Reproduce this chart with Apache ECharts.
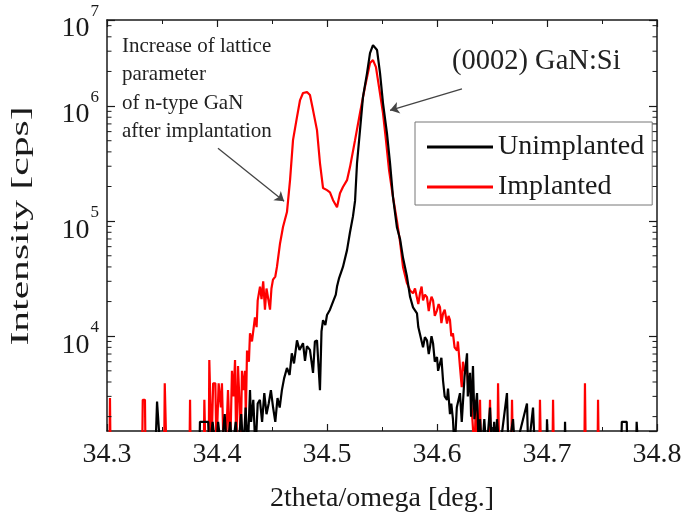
<!DOCTYPE html>
<html>
<head>
<meta charset="utf-8">
<script src="https://cdn.jsdelivr.net/npm/echarts@6/dist/echarts.min.js"></script>
<style>html,body{margin:0;padding:0;background:#fff}#c{width:685px;height:525px}</style>
</head>
<body>
<div id="c"></div>
<script>
// ---- data (2theta in deg, intensity in cps; 1000 = below axis floor) ----
const unimplantedX = [34.300,34.344,34.3455,34.347,34.3485,34.384,34.3845,34.392,34.393,34.396,34.399,34.401,34.404,34.407,34.409,34.412,34.414,34.417,34.419,34.422,34.424,34.426,34.428,34.430,34.431,34.433,34.435,34.437,34.439,34.441,34.443,34.445,34.447,34.449,34.451,34.453,34.455,34.457,34.459,34.461,34.4636,34.466,34.468,34.470,34.4727,34.475,34.4782,34.480,34.4818,34.4845,34.4873,34.489,34.4909,34.4936,34.495,34.4964,34.4985,34.500,34.5027,34.5055,34.508,34.5091,34.511,34.5145,34.5182,34.5209,34.5236,34.5255,34.5273,34.530,34.5327,34.5364,34.5391,34.5418,34.5455,34.5482,34.5509,34.5545,34.5573,34.560,34.5636,34.5664,34.5691,34.5727,34.5755,34.5782,34.5818,34.583,34.5845,34.5873,34.589,34.5909,34.5925,34.5936,34.595,34.5964,34.598,34.600,34.601,34.6027,34.604,34.6055,34.607,34.6091,34.610,34.6118,34.613,34.6145,34.616,34.618,34.6209,34.6225,34.625,34.6273,34.628,34.630,34.631,34.6327,34.634,34.6364,34.638,34.6391,34.641,34.643,34.645,34.6482,34.650,34.652,34.654,34.6545,34.657,34.6636,34.665,34.6691,34.671,34.6818,34.683,34.6873,34.689,34.6995,34.700,34.701,34.716,34.7164,34.717,34.7675,34.768,34.7725,34.773,34.781,34.7815,34.7825,34.783,34.800];
const unimplantedY = [1000,1000,2700,2700,1000,1000,1800,1800,1000,1800,1000,1800,1000,2100,1000,1800,1000,1800,1000,2100,1000,2400,1000,3400,1800,2800,1000,2600,2800,1800,3200,2100,2600,3400,2400,1800,2900,2400,3400,4300,5300,4600,7100,5800,9200,7600,8700,6100,8200,7600,4800,9000,9200,3400,11000,13800,12500,15300,17000,20000,23000,27000,32000,40000,56000,80000,110000,150000,320000,618000,1197000,1936000,2891000,3390000,3069000,1936000,1062000,582000,319000,162000,88000,70000,48000,33000,22000,17800,15800,12000,12000,8000,9800,9200,7000,8000,10000,8700,6000,6600,5000,5000,6500,4100,3000,2800,3500,2100,2600,1900,1000,2400,3200,1800,4400,7100,3000,4800,2000,5500,1900,3200,1000,1900,1000,1900,1000,2400,1000,1800,1000,1900,1000,3200,1000,1900,1000,2600,1000,2400,1000,1000,1900,1000,1000,1800,1000,1000,1800,1800,1000,1000,1800,1800,1000,1000];

const implantedX = [34.300,34.3023,34.3027,34.3032,34.332,34.3325,34.3345,34.335,34.352,34.3525,34.3535,34.354,34.375,34.3755,34.376,34.388,34.3885,34.3895,34.3925,34.393,34.394,34.395,34.3965,34.3985,34.3995,34.4015,34.4035,34.4045,34.406,34.408,34.410,34.412,34.4136,34.415,34.4164,34.4175,34.4191,34.4205,34.4215,34.4227,34.424,34.4255,34.4262,34.4273,34.429,34.430,34.4318,34.4345,34.436,34.437,34.4391,34.4405,34.442,34.4436,34.445,34.4465,34.4482,34.4495,34.4509,34.453,34.4545,34.4573,34.460,34.4636,34.4664,34.4691,34.4727,34.4755,34.4782,34.4818,34.4845,34.4873,34.4909,34.4936,34.4964,34.500,34.5027,34.5055,34.5091,34.5118,34.5145,34.5182,34.5209,34.5255,34.530,34.5345,34.5391,34.5418,34.5445,34.5473,34.5509,34.5536,34.5564,34.560,34.5636,34.5664,34.5691,34.5727,34.5755,34.5782,34.580,34.5818,34.583,34.5845,34.586,34.5873,34.589,34.5909,34.5925,34.5936,34.595,34.5964,34.598,34.600,34.6015,34.6027,34.604,34.6055,34.607,34.6091,34.6105,34.6118,34.613,34.6145,34.616,34.6182,34.619,34.6209,34.6225,34.6236,34.625,34.6273,34.6285,34.630,34.6315,34.6327,34.634,34.6355,34.6364,34.638,34.6391,34.640,34.647,34.6482,34.649,34.655,34.6555,34.6565,34.6675,34.6682,34.669,34.693,34.6936,34.6945,34.705,34.7055,34.7062,34.734,34.7345,34.7352,34.746,34.7464,34.747,34.800];
const implantedY = [1000,1000,2900,1000,1000,2800,2800,1000,1000,3900,3900,1000,1000,2800,1000,1000,2800,1000,1000,6200,2600,1000,3900,3900,1000,3900,2400,3900,1000,1000,3400,1000,5000,3000,6200,1000,5500,2600,1000,5000,3400,5000,2000,7500,6000,10600,9000,14600,12000,20500,27000,21000,30000,17000,26000,25000,17000,26000,31000,33000,40000,64000,89000,120000,227000,506000,802000,1128000,1298000,1324000,1247000,923000,618000,320000,194000,186000,178000,152000,132000,175000,198000,227000,295000,506000,870000,1463000,2366000,2512000,2183000,1463000,870000,506000,278000,162000,100000,66000,40000,28900,25000,23600,26000,25100,19000,23600,27000,20500,23000,21800,16500,19400,22000,20500,15000,16800,19000,17900,13000,15800,17000,12900,15000,13800,10000,10600,8000,7500,9000,5400,3600,6000,5000,5060,3500,4400,2400,2400,1000,2800,1000,1000,2800,1000,1000,2800,1000,1000,3900,1000,1000,2800,1000,1000,2800,1000,1000,2800,1000,1000,3900,1000,1000,2800,1000,1000];

const xTicks = { min: 34.3, max: 34.8, step: 0.1 };
const yRange = { min: 1500, max: 5600000 };
const minorYTicks = [2000,3000,4000,5000,6000,7000,8000,9000,20000,30000,40000,50000,60000,70000,80000,90000,200000,300000,400000,500000,600000,700000,800000,900000,2000000,3000000,4000000,5000000];
const legendNames = ['Unimplanted', 'Implanted'];

const FONT = 'Liberation Serif';
const INK = '#1a1a1a';
const zip = (xs, ys) => xs.map((x, i) => [x, ys[i]]);

const chart = echarts.init(document.getElementById('c'), null, { renderer: 'canvas' });

const yLabel = {
  show: true, margin: 8, showMinLabel: false, showMaxLabel: true,
  formatter: v => '{b|10}{s|' + Math.round(Math.log10(v)) + '}',
  rich: {
    b: { fontSize: 28, lineHeight: 28, fontFamily: FONT, color: INK, padding: [18, 0, 0, 0] },
    s: { fontSize: 17, lineHeight: 17, fontFamily: FONT, color: INK, padding: [0, 0, 17, 1] }
  }
};

chart.setOption({
  animation: false,
  backgroundColor: '#fff',
  grid: { left: 107, right: 28, top: 20, bottom: 94, containLabel: false, outerBoundsMode: 'none' },
  legend: {
    data: legendNames, orient: 'vertical', left: 415, top: 122,
    icon: 'rect', itemWidth: 66, itemHeight: 3, itemGap: 10,
    padding: [10, 8, 3, 12], borderColor: '#777', borderWidth: 1, backgroundColor: '#fff',
    textStyle: { fontFamily: FONT, fontSize: 28, lineHeight: 30, color: INK }
  },
  xAxis: [
    {
      type: 'value', min: xTicks.min, max: xTicks.max, interval: xTicks.step,
      name: '2theta/omega [deg.]', nameLocation: 'middle', nameGap: 54,
      nameTextStyle: { fontFamily: FONT, fontSize: 28, color: INK },
      axisLine: { show: true, onZero: false, lineStyle: { color: INK, width: 1.5 } },
      axisTick: { show: true, inside: true, length: 7, lineStyle: { color: INK, width: 1.2 } },
      minorTick: { show: true, splitNumber: 2, length: 4, lineStyle: { color: INK, width: 1 } },
      splitLine: { show: false },
      axisLabel: { margin: 10, fontFamily: FONT, fontSize: 28, color: INK, formatter: v => v.toFixed(1) }
    },
    {
      type: 'value', position: 'top', min: xTicks.min, max: xTicks.max, interval: xTicks.step,
      axisLine: { show: true, onZero: false, lineStyle: { color: INK, width: 1.5 } },
      axisTick: { show: true, inside: true, length: 7, lineStyle: { color: INK, width: 1.2 } },
      minorTick: { show: true, splitNumber: 2, length: 4, lineStyle: { color: INK, width: 1 } },
      splitLine: { show: false }, axisLabel: { show: false }
    }
  ],
  yAxis: [
    {
      type: 'log', logBase: 10, min: yRange.min, max: yRange.max,
      axisLine: { show: true, onZero: false, lineStyle: { color: INK, width: 1.5 } },
      axisTick: { show: true, inside: true, length: 8, lineStyle: { color: INK, width: 1.2 } },
      splitLine: { show: false },
      axisLabel: yLabel
    },
    {
      type: 'log', logBase: 10, position: 'right', min: yRange.min, max: yRange.max,
      axisLine: { show: true, onZero: false, lineStyle: { color: INK, width: 1.5 } },
      axisTick: { show: true, inside: true, length: 8, lineStyle: { color: INK, width: 1.2 } },
      splitLine: { show: false }, axisLabel: { show: false }
    }
  ],
  series: [
    {
      name: 'Implanted', type: 'line', data: zip(implantedX, implantedY),
      showSymbol: false, symbol: 'none', clip: true,
      lineStyle: { color: '#ff0000', width: 2.2 }, itemStyle: { color: '#ff0000' }, z: 2
    },
    {
      name: 'Unimplanted', type: 'line', data: zip(unimplantedX, unimplantedY),
      showSymbol: false, symbol: 'none', clip: true,
      lineStyle: { color: '#000', width: 2.2 }, itemStyle: { color: '#000' }, z: 3,
      markLine: {
        silent: true, symbol: ['none', 'arrow'], symbolSize: 9,
        label: { show: false },
        lineStyle: { color: '#444', width: 1.3, type: 'solid' },
        data: [
          [{ coord: [34.4009, 430000] }, { coord: [34.461, 149000] }],
          [{ coord: [34.6227, 1410000] }, { coord: [34.5573, 920000] }]
        ]
      }
    },
    {
      type: 'custom', silent: true, z: 5,
      data: minorYTicks.map(v => [xTicks.min, v]),
      encode: { x: 0, y: 1 },
      renderItem: (params, api) => {
        const v = api.value(1);
        const l = api.coord([xTicks.min, v]);
        const r = api.coord([xTicks.max, v]);
        const st = { stroke: INK, lineWidth: 1 };
        return { type: 'group', children: [
          { type: 'line', shape: { x1: l[0], y1: l[1], x2: l[0] + 4.5, y2: l[1] }, style: st },
          { type: 'line', shape: { x1: r[0], y1: r[1], x2: r[0] - 4.5, y2: r[1] }, style: st }
        ] };
      }
    }
  ],
  graphic: [
    {
      type: 'text', x: 122, y: 89, silent: true,
      style: { text: 'Increase of lattice\nparameter\nof n-type GaN\nafter implantation',
        fontFamily: FONT, fontSize: 21, lineHeight: 28.3, fill: '#222', verticalAlign: 'middle', align: 'left' }
    },
    {
      type: 'text', x: 452, y: 62, silent: true,
      style: { text: '(0002) GaN:Si', fontFamily: FONT, fontSize: 28.5, fill: '#222', verticalAlign: 'middle', align: 'left' }
    },
    {
      type: 'text', x: 21.5, y: 226, rotation: Math.PI / 2, scaleX: 1.6, silent: true,
      style: { text: 'Intensity [cps]', fontFamily: FONT, fontSize: 26, fill: INK, align: 'center', verticalAlign: 'middle' }
    }
  ]
});
</script>
</body>
</html>
